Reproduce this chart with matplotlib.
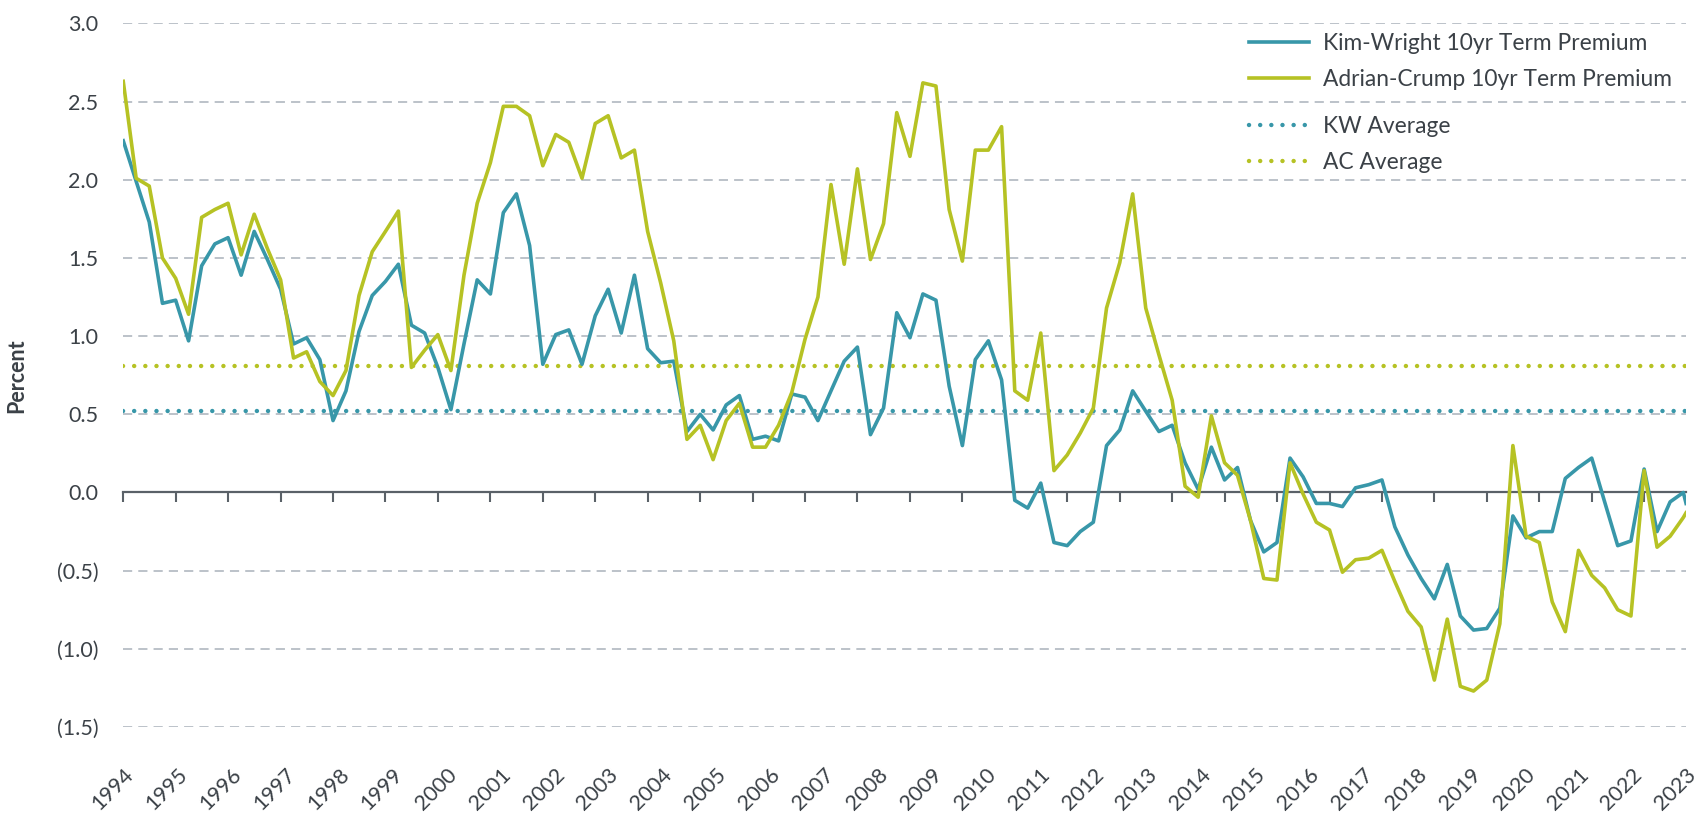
#!/usr/bin/env python3
"""Kim-Wright vs Adrian-Crump 10yr term premium, quarterly."""

import matplotlib
matplotlib.use("Agg")
import matplotlib.dates as mdates
import matplotlib.pyplot as plt
import numpy as np
import pandas as pd

# quarterly observations 1994Q1..2023Q4 plus one latest reading
QUARTERS = pd.date_range("1994-01-01", "2023-10-01", freq="QS")
LAST_DATE = pd.Timestamp("2023-10-20")

KW_TERM_PREMIUM = [
    2.25, 1.99, 1.73, 1.21, 1.23, 0.97, 1.45, 1.59, 1.63, 1.39,
    1.67, 1.49, 1.30, 0.95, 0.99, 0.85, 0.46, 0.65, 1.03, 1.26,
    1.35, 1.46, 1.07, 1.02, 0.80, 0.53, 0.95, 1.36, 1.27, 1.79,
    1.91, 1.58, 0.82, 1.01, 1.04, 0.82, 1.13, 1.30, 1.02, 1.39,
    0.92, 0.83, 0.84, 0.39, 0.50, 0.40, 0.56, 0.62, 0.34, 0.36,
    0.33, 0.63, 0.61, 0.46, 0.65, 0.84, 0.93, 0.37, 0.54, 1.15,
    0.99, 1.27, 1.23, 0.68, 0.30, 0.85, 0.97, 0.72, -0.05, -0.10,
    0.06, -0.32, -0.34, -0.25, -0.19, 0.30, 0.40, 0.65, 0.52, 0.39,
    0.43, 0.19, 0.02, 0.29, 0.08, 0.16, -0.18, -0.38, -0.32, 0.22,
    0.10, -0.07, -0.07, -0.09, 0.03, 0.05, 0.08, -0.22, -0.40, -0.55,
    -0.68, -0.46, -0.79, -0.88, -0.87, -0.74, -0.15, -0.29, -0.25, -0.25,
    0.09, 0.16, 0.22, -0.06, -0.34, -0.31, 0.15, -0.25, -0.06, 0.00,
    -0.07,
]
AC_TERM_PREMIUM = [
    2.63, 2.01, 1.96, 1.50, 1.37, 1.14, 1.76, 1.81, 1.85, 1.52,
    1.78, 1.56, 1.36, 0.86, 0.90, 0.71, 0.62, 0.78, 1.26, 1.54,
    1.67, 1.80, 0.80, 0.91, 1.01, 0.78, 1.39, 1.85, 2.11, 2.47,
    2.47, 2.41, 2.09, 2.29, 2.24, 2.01, 2.36, 2.41, 2.14, 2.19,
    1.67, 1.34, 0.97, 0.34, 0.43, 0.21, 0.46, 0.57, 0.29, 0.29,
    0.43, 0.64, 0.98, 1.25, 1.97, 1.46, 2.07, 1.49, 1.72, 2.43,
    2.15, 2.62, 2.60, 1.81, 1.48, 2.19, 2.19, 2.34, 0.65, 0.59,
    1.02, 0.14, 0.24, 0.38, 0.54, 1.18, 1.47, 1.91, 1.18, 0.88,
    0.59, 0.04, -0.03, 0.49, 0.19, 0.11, -0.18, -0.55, -0.56, 0.19,
    -0.01, -0.19, -0.24, -0.51, -0.43, -0.42, -0.37, -0.57, -0.76, -0.86,
    -1.20, -0.81, -1.24, -1.27, -1.20, -0.84, 0.30, -0.28, -0.32, -0.70,
    -0.89, -0.37, -0.53, -0.61, -0.75, -0.79, 0.14, -0.35, -0.28, -0.16,
    -0.13,
]
KW_AVERAGE = 0.52
AC_AVERAGE = 0.81

YEAR_LABELS = [str(y) for y in range(1994, 2024)]
Y_TICKS = [3.0, 2.5, 2.0, 1.5, 1.0, 0.5, 0.0, -0.5, -1.0, -1.5]
Y_TICK_LABELS = ["3.0", "2.5", "2.0", "1.5", "1.0", "0.5", "0.0", "(0.5)", "(1.0)", "(1.5)"]

KW_COLOR = "#3897a9"
AC_COLOR = "#b6c224"
TEXT_COLOR = "#3b4147"
GRID_COLOR = "#a9b1ba"
AXIS_COLOR = "#5a6168"
FS = 15.5
LEGEND_FS = 16.4

plt.rcParams["font.family"] = ["Lato", "DejaVu Sans"]


def main():
    x = mdates.date2num(list(QUARTERS) + [LAST_DATE])
    year_ticks = mdates.date2num(pd.date_range("1994-01-01", "2023-01-01", freq="YS"))

    fig = plt.figure(figsize=(17, 8.21), dpi=100)
    ax = fig.add_axes([0.0725, 0.1145, 0.9193, 0.8569])

    dots = (0, (0.01, 2.5))
    kw_avg = ax.axhline(KW_AVERAGE, color=KW_COLOR, lw=3.2, linestyle=dots,
                        dash_capstyle="round", zorder=2.5, label="KW Average")
    ac_avg = ax.axhline(AC_AVERAGE, color=AC_COLOR, lw=3.2, linestyle=dots,
                        dash_capstyle="round", zorder=2.5, label="AC Average")
    kw_line, = ax.plot(x, KW_TERM_PREMIUM, color=KW_COLOR, lw=2.6, zorder=4,
                       label="Kim-Wright 10yr Term Premium")
    ac_line, = ax.plot(x, AC_TERM_PREMIUM, color=AC_COLOR, lw=2.6, zorder=4,
                       label="Adrian-Crump 10yr Term Premium")

    ax.set_xlim(x[0], x[-1])
    ax.set_ylim(-1.5, 3.0)

    # y axis
    ax.set_yticks(Y_TICKS, Y_TICK_LABELS)
    ax.tick_params(axis="y", length=0, pad=18, labelsize=FS, labelcolor=TEXT_COLOR)
    ax.yaxis.grid(True, color=GRID_COLOR, lw=1.1, linestyle=(0, (6, 4)))
    ax.set_axisbelow(True)
    ax.set_ylabel("Percent", fontsize=FS, fontweight="bold", color=TEXT_COLOR)
    ax.yaxis.set_label_coords(-0.0612, 0.5)

    # zero line with yearly ticks
    for side in ("top", "right", "left"):
        ax.spines[side].set_visible(False)
    ax.spines["bottom"].set_position(("data", 0))
    ax.spines["bottom"].set_color(AXIS_COLOR)
    ax.spines["bottom"].set_linewidth(1.6)
    ax.set_xticks(year_ticks)
    ax.tick_params(axis="x", length=7, width=1.5, color=AXIS_COLOR, labelbottom=False)

    # year labels spread along the bottom
    secax = ax.secondary_xaxis("bottom")
    secax.set_xticks(np.linspace(x[0], x[-1], len(YEAR_LABELS)), YEAR_LABELS,
                     rotation=45, ha="right", rotation_mode="anchor")
    secax.tick_params(length=0, pad=27, labelsize=FS, labelcolor=TEXT_COLOR)
    secax.spines["bottom"].set_visible(False)

    leg_kw = dict(loc="center left", frameon=False, fontsize=LEGEND_FS, handlelength=2.65,
                  handletextpad=0.6, labelspacing=0.62, borderpad=0,
                  borderaxespad=0, labelcolor=TEXT_COLOR)
    leg1 = ax.legend(handles=[kw_line, ac_line], bbox_to_anchor=(0.7204, 0.946), **leg_kw)
    ax.add_artist(leg1)
    ax.legend(handles=[kw_avg, ac_avg], bbox_to_anchor=(0.7204, 0.828), **leg_kw)

    fig.savefig("out.png", dpi=100)
    plt.close(fig)


if __name__ == "__main__":
    main()
